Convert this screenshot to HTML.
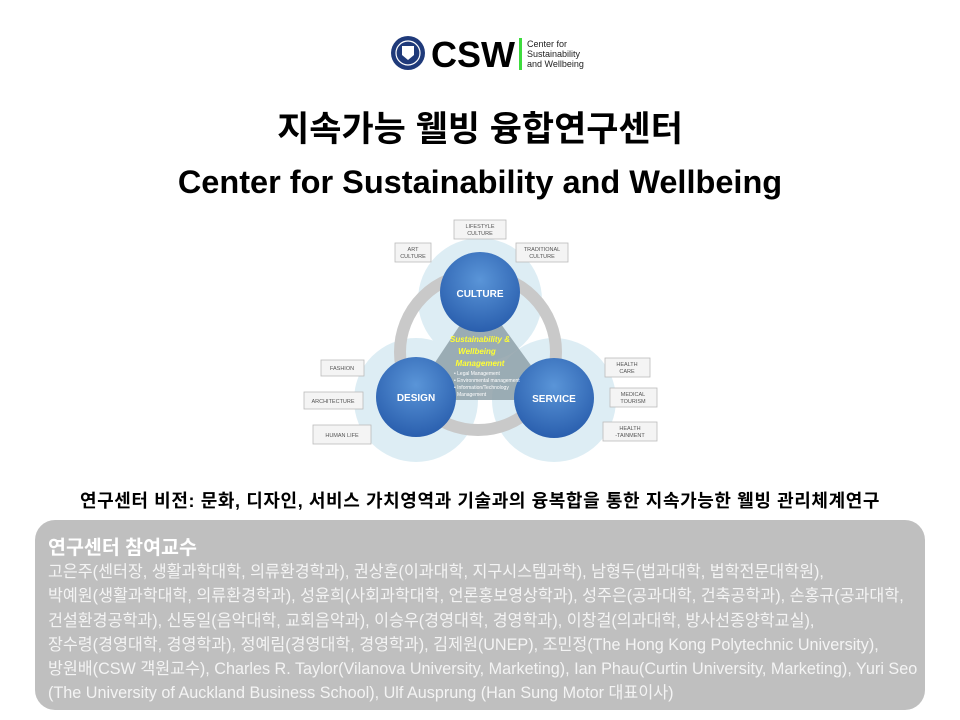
<!DOCTYPE html>
<html><head><meta charset="utf-8"><style>
body{margin:0;width:960px;height:720px;background:#fff;font-family:"Liberation Sans","Noto Sans CJK KR",sans-serif;position:relative;overflow:hidden}
.a{position:absolute}
.t1{left:0;width:960px;text-align:center;top:101px;font-size:35px;font-weight:bold;color:#000}
.t2{left:0;width:960px;text-align:center;top:164px;font-size:32.5px;font-weight:bold;color:#000}
.vis{left:0;width:960px;text-align:center;top:487px;font-size:18px;letter-spacing:0.6px;font-weight:bold;color:#000}
.box{left:35px;top:520px;width:890px;height:190px;border-radius:20px;background:#bfbfbf}
.bt{left:48px;top:531px;font-size:19.5px;font-weight:bold;color:#fff}
.bb{left:48px;top:560px;width:890px;font-size:16.2px;line-height:24.3px;color:#f4f4f4;white-space:nowrap}
</style></head><body>
<svg class="a" style="left:390px;top:35px" width="200" height="40">
<circle cx="18" cy="18" r="17" fill="#1f3a7a"/><circle cx="18" cy="18" r="12" fill="none" stroke="#fff" stroke-width="1.2"/>
<path d="M12 11h12v9l-6 5-6-5z" fill="#fff"/>
<text x="41" y="32" font-family="Liberation Sans" font-weight="bold" font-size="36" fill="#000">CSW</text>
<rect x="129" y="3" width="3" height="32" fill="#3ddc3d"/>
<text x="137" y="12" font-family="Liberation Sans" font-size="9" fill="#222">Center for</text>
<text x="137" y="22" font-family="Liberation Sans" font-size="9" fill="#222">Sustainability</text>
<text x="137" y="32" font-family="Liberation Sans" font-size="9" fill="#222">and Wellbeing</text>
</svg>
<div class="a t1">지속가능 웰빙 융합연구센터</div>
<div class="a t2">Center for Sustainability and Wellbeing</div>
<svg class="a" style="left:300px;top:215px" width="370" height="250" font-family="Liberation Sans">
<defs><radialGradient id="g" cx="50%" cy="35%" r="65%"><stop offset="0" stop-color="#5a95d8"/><stop offset="1" stop-color="#2a5fae"/></radialGradient></defs>
<g fill="#cfe6f0" opacity="0.7">
<circle cx="180" cy="85" r="62"/><circle cx="116" cy="185" r="62"/><circle cx="254" cy="185" r="62"/>
</g>
<circle cx="178" cy="137" r="78" fill="none" stroke="#c9c9c9" stroke-width="12"/>
<polygon points="180,80 110,185 256,185" fill="#8ea0a8" opacity="0.85"/>
<circle cx="180" cy="77" r="40" fill="url(#g)"/>
<circle cx="116" cy="182" r="40" fill="url(#g)"/>
<circle cx="254" cy="183" r="40" fill="url(#g)"/>
<text x="180" y="82" text-anchor="middle" fill="#fff" font-size="10" font-weight="bold">CULTURE</text>
<text x="116" y="186" text-anchor="middle" fill="#fff" font-size="10" font-weight="bold">DESIGN</text>
<text x="254" y="187" text-anchor="middle" fill="#fff" font-size="10" font-weight="bold">SERVICE</text>
<g fill="#ffff33" font-size="8" font-weight="bold" font-style="italic" text-anchor="middle">
<text x="180" y="127">Sustainability &amp;</text><text x="177" y="139">Wellbeing</text><text x="180" y="151">Management</text></g>
<g fill="#fff" font-size="5"><text x="154" y="160">• Legal Management</text><text x="154" y="167">• Environmental management</text><text x="154" y="174">• Information/Technology</text><text x="157" y="181">Management</text></g>
<g fill="#f4f4f4" stroke="#bbb" stroke-width="0.8">
<rect x="154" y="5" width="52" height="19"/><rect x="95" y="28" width="36" height="19"/><rect x="216" y="28" width="52" height="19"/>
<rect x="21" y="145" width="43" height="16"/><rect x="4" y="177" width="59" height="17"/><rect x="13" y="210" width="58" height="19"/>
<rect x="305" y="143" width="45" height="19"/><rect x="310" y="173" width="47" height="19"/><rect x="303" y="207" width="54" height="19"/>
</g>
<g fill="#555" font-size="5.5" text-anchor="middle">
<text x="180" y="13">LIFESTYLE</text><text x="180" y="20">CULTURE</text>
<text x="113" y="36">ART</text><text x="113" y="43">CULTURE</text>
<text x="242" y="36">TRADITIONAL</text><text x="242" y="43">CULTURE</text>
<text x="42" y="155">FASHION</text><text x="33" y="188">ARCHITECTURE</text><text x="42" y="222">HUMAN LIFE</text>
<text x="327" y="151">HEALTH</text><text x="327" y="158">CARE</text>
<text x="333" y="181">MEDICAL</text><text x="333" y="188">TOURISM</text>
<text x="330" y="215">HEALTH</text><text x="330" y="222">-TAINMENT</text>
</g>
</svg>
<div class="a vis">연구센터 비전: 문화, 디자인, 서비스 가치영역과 기술과의 융복합을 통한 지속가능한 웰빙 관리체계연구</div>
<div class="a box"></div>
<div class="a bt">연구센터 참여교수</div>
<div class="a bb">고은주(센터장, 생활과학대학, 의류환경학과), 권상훈(이과대학, 지구시스템과학), 남형두(법과대학, 법학전문대학원),<br>박예원(생활과학대학, 의류환경학과), 성윤희(사회과학대학, 언론홍보영상학과), 성주은(공과대학, 건축공학과), 손홍규(공과대학,<br>건설환경공학과), 신동일(음악대학, 교회음악과), 이승우(경영대학, 경영학과), 이창걸(의과대학, 방사선종양학교실),<br>장수령(경영대학, 경영학과), 정예림(경영대학, 경영학과), 김제원(UNEP), 조민정(The Hong Kong Polytechnic University),<br>방원배(CSW 객원교수), Charles R. Taylor(Vilanova University, Marketing), Ian Phau(Curtin University, Marketing), Yuri Seo<br>(The University of Auckland Business School), Ulf Ausprung (Han Sung Motor 대표이사)</div>
</body></html>
